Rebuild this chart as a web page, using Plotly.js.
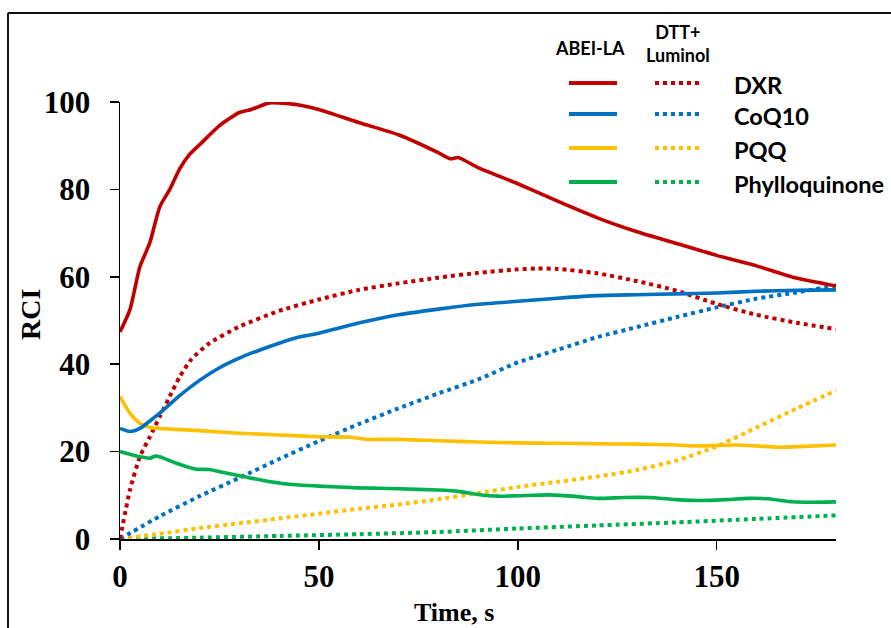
<!DOCTYPE html>
<html>
<head>
<meta charset="utf-8">
<script src="https://cdn.plot.ly/plotly-3.0.1.min.js"></script>
<style>
  html, body { margin: 0; padding: 0; background: #fff; }
  #chart { width: 891px; height: 628px; }
</style>
</head>
<body>
<div id="chart"></div>
<script>
// ---------- data ----------
const seriesNames = ["DXR", "CoQ10", "PQQ", "Phylloquinone"];
const colors = ["#C00000", "#0070C0", "#FFC000", "#00B050"];

// ABEI-LA (solid lines)
const tDxrAbei = [0, 2.5, 5, 7.5, 10, 12.5, 15, 17.5, 20, 25, 30, 33, 35, 37.5, 40, 45, 50, 60, 70, 80, 83, 85, 90, 100, 110, 120, 130, 140, 150, 160, 170, 180];
const vDxrAbei = [47.4, 52.5, 62.3, 67.8, 76.0, 80.0, 84.7, 88.0, 90.2, 94.6, 97.6, 98.3, 99.0, 99.8, 99.8, 99.3, 98.3, 95.3, 92.5, 88.4, 87.0, 87.3, 85.0, 81.3, 77.3, 73.5, 70.3, 67.6, 64.9, 62.5, 59.7, 57.9];

const tCoqAbei = [0, 2.5, 5, 7.5, 10, 15, 20, 25, 30, 35, 40, 45, 50, 60, 70, 80, 90, 100, 110, 120, 130, 140, 150, 160, 170, 180];
const vCoqAbei = [25.3, 24.6, 25.3, 27.0, 28.8, 32.8, 36.3, 39.2, 41.4, 43.2, 44.8, 46.2, 47.1, 49.4, 51.3, 52.6, 53.7, 54.4, 55.1, 55.7, 55.9, 56.1, 56.3, 56.7, 56.9, 57.0];

const tPqqAbei = [0, 2.5, 5, 7.5, 10, 20, 30, 40, 50, 58, 62, 70, 80, 90, 100, 110, 120, 130, 140, 145, 150, 155, 160, 166, 172, 180];
const vPqqAbei = [32.6, 28.8, 26.5, 25.5, 25.3, 24.8, 24.2, 23.8, 23.4, 23.3, 22.8, 22.8, 22.5, 22.2, 22.0, 21.9, 21.8, 21.7, 21.5, 21.3, 21.4, 21.5, 21.3, 21.0, 21.2, 21.5];

const tPhyAbei = [0, 2.5, 5, 7.5, 9, 10, 14, 19, 22.5, 26, 31, 36, 42, 50, 60, 70, 80, 85, 90, 95, 100, 108, 115, 120, 127, 133, 140, 146, 152, 158, 163, 168, 172, 180];
const vPhyAbei = [20.0, 19.4, 18.8, 18.5, 19.0, 18.8, 17.4, 16.0, 15.9, 15.2, 14.3, 13.4, 12.6, 12.1, 11.7, 11.5, 11.2, 10.9, 10.2, 9.8, 9.9, 10.1, 9.7, 9.3, 9.5, 9.5, 9.0, 8.8, 9.0, 9.3, 9.2, 8.6, 8.4, 8.5];

// DTT + Luminol (dotted lines)
const tDxrLum = [0, 2.5, 5, 7.5, 10, 12.5, 15, 18, 22.5, 30, 40, 50, 60, 70, 80, 90, 100, 105, 110, 120, 130, 140, 150, 160, 170, 180];
const vDxrLum = [0, 11.2, 18.8, 23.4, 28.0, 32.6, 37.1, 41.2, 44.8, 48.6, 52.2, 54.8, 57.0, 58.5, 59.8, 60.9, 61.7, 61.9, 61.8, 60.8, 59.0, 56.8, 53.8, 51.3, 49.5, 48.0];

const tCoqLum = [0, 10, 20, 30, 40, 50, 60, 70, 80, 90, 100, 110, 120, 130, 140, 150, 160, 170, 180];
const vCoqLum = [0, 5.2, 9.8, 14.0, 18.3, 22.4, 26.3, 29.9, 33.3, 36.5, 40.4, 43.3, 46.2, 48.5, 50.8, 53.0, 55.0, 56.4, 58.0];

const tPqqLum = [0, 10, 20, 30, 40, 50, 60, 70, 80, 90, 100, 110, 120, 130, 140, 150, 160, 170, 180];
const vPqqLum = [0, 1.2, 2.5, 3.6, 4.7, 5.8, 6.9, 7.9, 9.1, 10.5, 11.9, 13.1, 14.3, 15.8, 18.0, 21.2, 25.5, 29.8, 34.0];

const tPhyLum = [0, 20, 40, 60, 80, 100, 120, 140, 160, 180];
const vPhyLum = [0, 0.3, 0.7, 1.1, 1.6, 2.4, 3.1, 3.8, 4.6, 5.4];

const xTicks = [0, 50, 100, 150];
const yTicks = [0, 20, 40, 60, 80, 100];
const xTitle = "Time, s";
const yTitle = "RCI";
const headSolid = "ABEI-LA";
const headDotted = "DTT+<br>Luminol";

// ---------- layout helpers ----------
const W = 891, H = 628;
const M = { l: 120, r: 55, t: 102, b: 89 };
const PW = W - M.l - M.r, PH = H - M.t - M.b;
const px = (x) => (x - M.l) / PW;          // pixel -> paper x
const py = (y) => (H - M.b - y) / PH;      // pixel -> paper y

const solidW = 3.6, dotW = 4;
const dotDash = "4px,4px";

const abei = [[tDxrAbei, vDxrAbei], [tCoqAbei, vCoqAbei], [tPqqAbei, vPqqAbei], [tPhyAbei, vPhyAbei]];
const lum = [[tDxrLum, vDxrLum], [tCoqLum, vCoqLum], [tPqqLum, vPqqLum], [tPhyLum, vPhyLum]];

const traces = [];
for (let i = 3; i >= 0; i--) {
  traces.push({
    x: lum[i][0], y: lum[i][1], type: "scatter", mode: "lines",
    name: seriesNames[i] + " (DTT+Luminol)", showlegend: false,
    line: { color: colors[i], width: dotW, dash: dotDash, shape: "spline", smoothing: 0.6 }
  });
}
for (let i = 3; i >= 0; i--) {
  traces.push({
    x: abei[i][0], y: abei[i][1], type: "scatter", mode: "lines",
    name: seriesNames[i] + " (ABEI-LA)", showlegend: false,
    line: { color: colors[i], width: solidW, shape: "spline", smoothing: 0.6 }
  });
}

// ---------- custom legend ----------
const legendRowsY = [83, 114, 148, 182];
const shapes = [];
const annotations = [];
const legFont = "Lato, 'Open Sans', sans-serif";
for (let i = 0; i < 4; i++) {
  shapes.push({ type: "line", xref: "paper", yref: "paper",
    x0: px(569), x1: px(617), y0: py(legendRowsY[i]), y1: py(legendRowsY[i]),
    line: { color: colors[i], width: 4 } });
  shapes.push({ type: "line", xref: "paper", yref: "paper",
    x0: px(655), x1: px(701), y0: py(legendRowsY[i]), y1: py(legendRowsY[i]),
    line: { color: colors[i], width: 4, dash: dotDash } });
  annotations.push({ xref: "paper", yref: "paper", x: px(732), y: py(legendRowsY[i] + 2),
    xanchor: "left", yanchor: "middle", showarrow: false, text: seriesNames[i],
    font: { family: legFont, size: 23.5, weight: "bold", color: "#000" } });
}
annotations.push({ xref: "paper", yref: "paper", x: px(590), y: py(48),
  xanchor: "center", yanchor: "middle", showarrow: false, text: headSolid,
  font: { family: legFont, size: 18, weight: "bold", color: "#000" } });
annotations.push({ xref: "paper", yref: "paper", x: px(678), y: py(44),
  xanchor: "center", yanchor: "middle", showarrow: false, text: headDotted,
  font: { family: legFont, size: 18, weight: "bold", color: "#000" } });

// axis titles
annotations.push({ xref: "paper", yref: "paper", x: px(30), y: py(315),
  xanchor: "center", yanchor: "middle", showarrow: false, text: yTitle, textangle: -90,
  font: { family: "'Liberation Serif', 'Times New Roman', serif", size: 28, weight: "bold", color: "#000" } });
annotations.push({ xref: "paper", yref: "paper", x: px(454), y: py(612),
  xanchor: "center", yanchor: "middle", showarrow: false, text: xTitle,
  font: { family: "'Liberation Serif', 'Times New Roman', serif", size: 26, weight: "bold", color: "#000" } });

// outer frame (top and left edges)
shapes.push({ type: "line", xref: "paper", yref: "paper", x0: px(8), x1: px(895), y0: py(13), y1: py(13),
  line: { color: "#111", width: 2 } });
shapes.push({ type: "line", xref: "paper", yref: "paper", x0: px(8), x1: px(8), y0: py(13), y1: py(640),
  line: { color: "#111", width: 2 } });

const tickFont = { family: "'Liberation Serif', 'Times New Roman', serif", size: 31, weight: "bold", color: "#000" };

const layout = {
  width: W, height: H,
  margin: M,
  paper_bgcolor: "#fff", plot_bgcolor: "#fff",
  showlegend: false,
  xaxis: {
    range: [0, 180], tickvals: xTicks, ticktext: xTicks.map(String),
    showgrid: false, zeroline: false, showline: true, linecolor: "#000", linewidth: 1.5,
    ticks: "outside", ticklen: 9, tickwidth: 1.5, tickcolor: "#000",
    tickfont: tickFont, fixedrange: true
  },
  yaxis: {
    range: [0, 100], tickvals: yTicks, ticktext: yTicks.map(String),
    showgrid: false, zeroline: false, showline: true, linecolor: "#000", linewidth: 1.5,
    ticks: "outside", ticklen: 9, tickwidth: 1.5, tickcolor: "#000",
    ticklabelstandoff: 13,
    tickfont: tickFont, fixedrange: true
  },
  shapes: shapes,
  annotations: annotations
};

Plotly.newPlot("chart", traces, layout, { displayModeBar: false, staticPlot: true });
</script>
</body>
</html>
